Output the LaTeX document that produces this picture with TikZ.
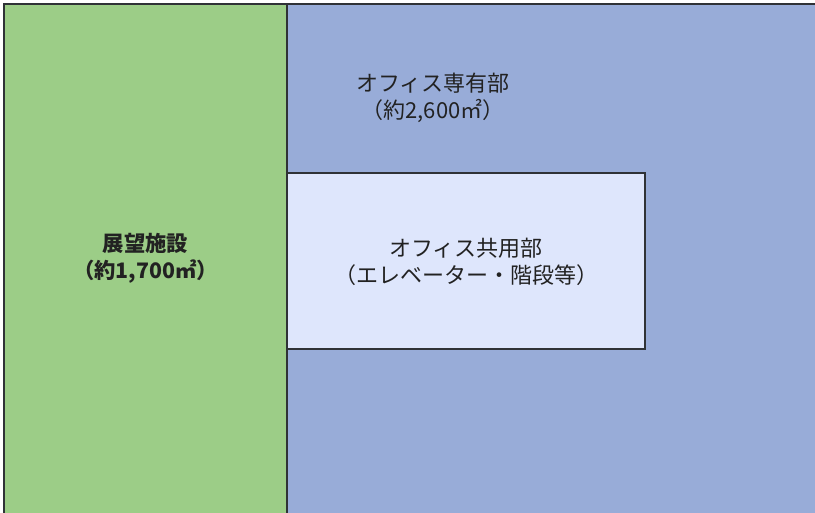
\documentclass[tikz,border=0pt]{standalone}
\usepackage{fontspec}
\setmainfont{Noto Sans CJK JP}
\definecolor{greenfill}{HTML}{9CCD87}
\definecolor{bluefill}{HTML}{98ACD8}
\definecolor{innerfill}{HTML}{DEE6FC}
\definecolor{edge}{HTML}{2F3236}
\definecolor{txt}{HTML}{222222}
\tikzset{
  area/.style={draw=edge, line width=1.1pt},
  lbl/.style={align=center, text=txt, font=\fontsize{16.5}{20.5}\selectfont, inner sep=0pt}
}
\begin{document}
\begin{tikzpicture}[x=0.75pt,y=-0.75pt]
\useasboundingbox (0,0) rectangle (815,513);
\clip (0,0) rectangle (815,513);
\path[area, fill=bluefill] (287,4) rectangle (820,520);
\path[area, fill=greenfill] (4,4) rectangle (287,520);
\path[area, fill=innerfill] (287,173) rectangle (645,349);
\node[lbl, font=\fontsize{16}{20.5}\selectfont\bfseries] (obs) at (145.5,258.5) {展望施設\\（約1,700㎡）};
\node[lbl] (priv) at (433,98) {オフィス専有部\\（約2,600㎡）};
\node[lbl] (common) at (466,262) {オフィス共用部\\（エレベーター・階段等）};
\end{tikzpicture}
\end{document}
